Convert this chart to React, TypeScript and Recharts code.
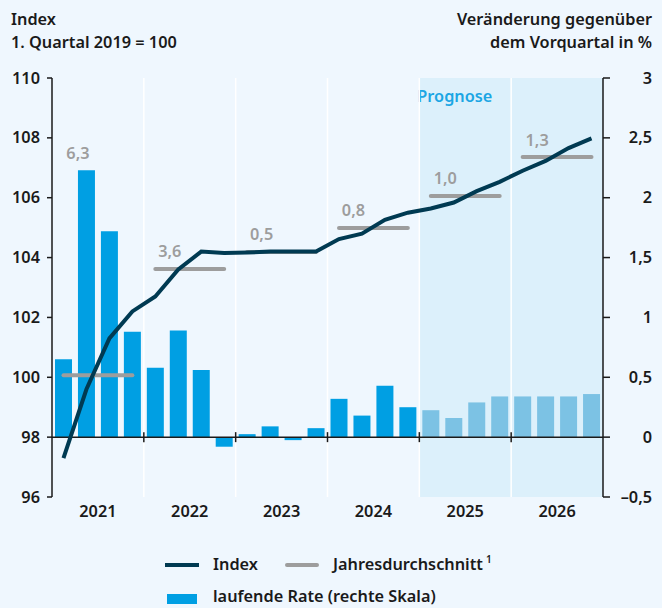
import {
  ComposedChart,
  Bar,
  Line,
  Cell,
  XAxis,
  YAxis,
  ReferenceArea,
  ReferenceLine,
  LabelList,
} from 'recharts';

const YEARS = ['2021', '2022', '2023', '2024', '2025', '2026'];

// Index, 1. Quartal 2019 = 100
const INDEX_VALUES = [
  97.3, 99.6, 101.3, 102.2, 102.7, 103.6, 104.2, 104.15, 104.17, 104.2, 104.2, 104.2, 104.62, 104.8, 105.26,
  105.5, 105.64, 105.84, 106.22, 106.53, 106.9, 107.23, 107.66, 107.98,
];

// laufende Rate, % gegenüber Vorquartal
const RATE_VALUES = [
  0.65, 2.23, 1.72, 0.88, 0.58, 0.89, 0.56, -0.08, 0.025, 0.09, -0.025, 0.075, 0.32, 0.18, 0.43, 0.25, 0.225, 0.16,
  0.29, 0.34, 0.34, 0.34, 0.34, 0.36,
];

const ANNUAL_AVERAGES = [100.07, 103.62, 104.19, 104.99, 106.06, 107.36];
const ANNUAL_RATES = [6.3, 3.6, 0.5, 0.8, 1.0, 1.3];

const FORECAST_START = '2025Q1';
const FORECAST_END = '2026Q4';

const LEFT_TICKS = [96, 98, 100, 102, 104, 106, 108, 110];
const RIGHT_TICKS = [-0.5, 0, 0.5, 1, 1.5, 2, 2.5, 3];
const LEFT_DOMAIN: [number, number] = [96, 110];
const RIGHT_DOMAIN: [number, number] = [-0.5, 3];

const CHART_W = 662;
const CHART_H = 608;
const LEFT_W = 52;
const RIGHT_W = 59;

const COLORS = {
  bg: '#eff7fe',
  forecastBg: '#dcf0fb',
  bar: '#009fe3',
  barForecast: '#7cc2e4',
  index: '#003a52',
  avg: '#9d9d9d',
  text: '#1a1a1a',
  prognose: '#1ba6e4',
};

const FONT = '"Noto Sans", "Open Sans", sans-serif';
const WEIGHT = 600;
const SIZE = 16.3;

const QUARTERS = YEARS.flatMap((y) => [1, 2, 3, 4].map((q) => `${y}Q${q}`));

// maps a value of the right scale onto the left scale (both axes share the zero line)
const toLeft = (r: number) =>
  LEFT_DOMAIN[0] + ((r - RIGHT_DOMAIN[0]) * (LEFT_DOMAIN[1] - LEFT_DOMAIN[0])) / (RIGHT_DOMAIN[1] - RIGHT_DOMAIN[0]);

const data = QUARTERS.map((quarter, i) => {
  const yi = Math.floor(i / 4);
  const row: Record<string, string | number | null> = {
    quarter,
    year: YEARS[yi],
    index: INDEX_VALUES[i],
    rate: RATE_VALUES[i],
    labelAnchor: null,
    labelText: null,
  };
  YEARS.forEach((y, k) => {
    row[`avg${y}`] = k === yi ? ANNUAL_AVERAGES[k] : null;
  });
  if (i % 4 === 0) {
    const barTop = toLeft(Math.max(RATE_VALUES[i], RATE_VALUES[i + 1]));
    row.labelAnchor = Math.max(ANNUAL_AVERAGES[yi], barTop);
    row.labelText = ANNUAL_RATES[yi].toFixed(1).replace('.', ',');
  }
  return row;
});

const fmtRight = (v: number) => (v < 0 ? '–' : '') + String(Math.abs(v)).replace('.', ',');

const tickStyle = { fontFamily: FONT, fontSize: SIZE, fontWeight: WEIGHT, fill: COLORS.text };

const LeftTick = (props: any) => (
  <text x={props.x} y={props.y} dy={5.5} textAnchor="end" style={tickStyle}>
    {props.payload.value}
  </text>
);

const RightTick = (props: any) => (
  <text x={props.x + 40} y={props.y} dy={5.5} textAnchor="end" style={tickStyle}>
    {fmtRight(props.payload.value)}
  </text>
);

const YearTick = (props: any) => (
  <text x={props.x} y={props.y} dy={12} textAnchor="middle" style={tickStyle}>
    {props.payload.value}
  </text>
);

const halfBand = (CHART_W - LEFT_W - RIGHT_W) / QUARTERS.length / 2;

const AvgLabel = (props: any) => {
  if (props.value == null || props.y == null) return null;
  return (
    <text
      x={props.x + halfBand + 3}
      y={props.y - 17}
      dy={5.5}
      textAnchor="middle"
      style={{ fontFamily: FONT, fontSize: SIZE, fontWeight: WEIGHT, fill: COLORS.avg }}
    >
      {props.value}
    </text>
  );
};

const YearDivider = (props: any) => {
  const { x1 } = props;
  const top = Math.min(props.y1, props.y2);
  const bottom = Math.max(props.y1, props.y2);
  const zeroY = top + ((bottom - top) * RIGHT_DOMAIN[1]) / (RIGHT_DOMAIN[1] - RIGHT_DOMAIN[0]);
  return (
    <g>
      <line x1={x1} x2={x1} y1={top} y2={bottom} stroke="#ffffff" strokeWidth={1.5} />
      <line x1={x1} x2={x1} y1={zeroY - 5} y2={zeroY + 5} stroke={COLORS.text} strokeWidth={1.5} />
    </g>
  );
};

const PrognoseLabel = (props: any) => {
  const vb = props.viewBox || {};
  return (
    <text
      x={vb.x - 2}
      y={vb.y + 18}
      dy={5.5}
      style={{ fontFamily: FONT, fontSize: SIZE, fontWeight: WEIGHT, fill: COLORS.prognose }}
    >
      Prognose
    </text>
  );
};

const textBase = { fontFamily: FONT, fontSize: SIZE, fontWeight: WEIGHT, color: COLORS.text, lineHeight: '23px' };

export default function App() {
  return (
    <div style={{ position: 'absolute', left: 0, top: 0, width: CHART_W, height: CHART_H, background: COLORS.bg }}>
      <div style={{ ...textBase, position: 'absolute', left: 11, top: 8 }}>
        Index
        <br />
        1. Quartal 2019 = 100
      </div>
      <div style={{ ...textBase, position: 'absolute', right: 10, top: 8, textAlign: 'right' }}>
        Veränderung gegenüber
        <br />
        dem Vorquartal in %
      </div>

      <ComposedChart width={CHART_W} height={CHART_H} data={data} margin={{ top: 78, right: 0, left: 0, bottom: 81 }}>
        <XAxis dataKey="quarter" hide height={0} />
        <XAxis
          xAxisId="years"
          dataKey="year"
          allowDuplicatedCategory={false}
          axisLine={false}
          tickLine={false}
          tick={<YearTick />}
          height={30}
        />
        <YAxis
          yAxisId="left"
          orientation="left"
          domain={LEFT_DOMAIN}
          ticks={LEFT_TICKS}
          width={LEFT_W}
          tickSize={5}
          tickMargin={7}
          axisLine={{ stroke: COLORS.text, strokeWidth: 1.5 }}
          tickLine={{ stroke: COLORS.text, strokeWidth: 1.5 }}
          tick={<LeftTick />}
          allowDataOverflow
        />
        <YAxis
          yAxisId="right"
          orientation="right"
          domain={RIGHT_DOMAIN}
          ticks={RIGHT_TICKS}
          width={RIGHT_W}
          tickSize={7}
          tickMargin={2}
          axisLine={{ stroke: COLORS.text, strokeWidth: 1.5 }}
          tickLine={{ stroke: COLORS.text, strokeWidth: 1.5 }}
          tick={<RightTick />}
          allowDataOverflow
        />

        <ReferenceArea
          yAxisId="right"
          x1={FORECAST_START}
          x2={FORECAST_END}
          fill={COLORS.forecastBg}
          fillOpacity={1}
          stroke="none"
          label={<PrognoseLabel />}
        />
        {YEARS.slice(1).map((y) => (
          <ReferenceLine
            key={y}
            yAxisId="right"
            x={`${y}Q1`}
            position="start"
            shape={<YearDivider />}
          />
        ))}

        <Bar yAxisId="right" dataKey="rate" barSize={17} isAnimationActive={false}>
          {data.map((d, i) => (
            <Cell key={i} fill={QUARTERS.indexOf(FORECAST_START) <= i ? COLORS.barForecast : COLORS.bar} />
          ))}
        </Bar>

        <ReferenceLine yAxisId="right" y={0} stroke={COLORS.text} strokeWidth={1.5} />

        {YEARS.map((y) => (
          <Line
            key={y}
            yAxisId="left"
            dataKey={`avg${y}`}
            stroke={COLORS.avg}
            strokeWidth={4}
            strokeLinecap="round"
            dot={false}
            activeDot={false}
            connectNulls={false}
            isAnimationActive={false}
          />
        ))}

        <Line
          yAxisId="left"
          dataKey="labelAnchor"
          stroke="none"
          dot={false}
          activeDot={false}
          isAnimationActive={false}
        >
          <LabelList dataKey="labelText" content={<AvgLabel />} />
        </Line>

        <Line
          yAxisId="left"
          dataKey="index"
          stroke={COLORS.index}
          strokeWidth={4}
          dot={false}
          activeDot={false}
          isAnimationActive={false}
        />
      </ComposedChart>

      <div style={{ ...textBase, position: 'absolute', left: 0, top: 552, width: CHART_W, height: 56 }}>
        <div style={{ position: 'absolute', left: 165, top: 11, width: 34, height: 4, background: COLORS.index }} />
        <div style={{ position: 'absolute', left: 213, top: 1 }}>Index</div>
        <div
          style={{ position: 'absolute', left: 285, top: 11, width: 34, height: 4, borderRadius: 2, background: COLORS.avg }}
        />
        <div style={{ position: 'absolute', left: 333, top: 1, whiteSpace: 'nowrap' }}>
          Jahresdurchschnitt
          <span style={{ fontSize: 10, marginLeft: 3, position: 'relative', top: -7 }}>1</span>
        </div>
        <div style={{ position: 'absolute', left: 167, top: 42, width: 30, height: 10, background: COLORS.bar }} />
        <div style={{ position: 'absolute', left: 213, top: 36, lineHeight: '17px', whiteSpace: 'nowrap' }}>
          laufende Rate (rechte Skala)
        </div>
      </div>
    </div>
  );
}
